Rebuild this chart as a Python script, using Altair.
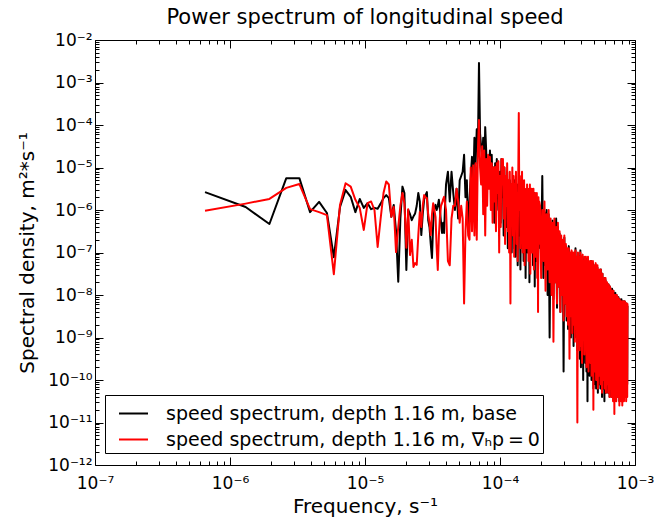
import altair as alt
import pandas as pd

# ---------------- data ----------------
DF = 6.53e-7  # frequency resolution of the spectrum, s^-1
SER_BASE = "speed spectrum, depth 1.16 m, base"
SER_RED = "speed spectrum, depth 1.16 m, ∇ₕp\u2009=\u20090"

# frequency-bin indices of each segment (the spectrum is on an even grid k*DF)
bins_lo = list(range(1, 61))
bins_mid = list(range(61, 161, 2))
bins_hi1 = list(range(161, 301, 2))
bins_hi2 = list(range(303, 1351, 6))

# log10 of spectral density, base run
base_lo = [
    -5.58, -5.93, -6.33, -5.25, -5.25, -6.05, -5.81, -6.07, -7.11, -5.93,
    -5.53, -5.69, -6.05, -5.74, -5.95, -5.84, -5.98, -5.95, -5.97, -5.85,
    -5.72, -5.65, -5.72, -6.16, -5.88, -6.50, -7.69, -6.20, -5.45, -5.60,
    -7.41, -6.00, -6.10, -6.24, -6.15, -6.08, -5.90, -5.60, -5.80, -6.59,
    -6.10, -5.75, -5.65, -5.58, -6.24, -6.40, -6.80, -7.13, -6.30, -5.95,
    -5.88, -6.00, -5.90, -5.76, -6.00, -6.30, -6.54, -6.30, -6.54, -5.90,
]
base_mid = [
    -5.4, -5.1, -5.8, -5.1, -5.6, -6.0, -5.5, -6.2, -5.3, -5.2,
    -5.1, -4.7, -5.7, -5.3, -6.5, -5.8, -5.2, -4.75, -5.5, -4.3,
    -4.9, -4.1, -4.6, -2.54, -4.2, -4.5, -4.8, -4.3, -5.2, -4.05,
    -4.6, -5.3, -4.8, -5.2, -4.6, -5.4, -4.7, -5.6, -5.0, -6.3,
    -4.9, -5.7, -4.8, -5.4, -6.0, -5.9, -5.1, -6.3, -4.8, -5.7,
]
base_hi1 = [
    -5.2, -6.6, -5.0, -6.1, -5.4, -6.4, -5.1, -6.9, -5.5, -6.2,
    -5.3, -6.8, -5.6, -7.0, -5.4, -6.5, -5.5, -6.9, -5.3, -7.1,
    -5.6, -6.4, -5.4, -7.3, -5.7, -5.9, -6.6, -5.5, -7.4, -5.8,
    -6.7, -5.4, -6.9, -5.9, -7.2, -5.6, -6.8, -5.8, -7.6, -5.7,
    -6.5, -5.6, -7.0, -5.8, -6.6, -5.7, -7.7, -5.9, -6.4, -5.6,
    -6.9, -5.8, -6.5, -5.7, -7.3, -5.9, -6.6, -5.6, -7.8, -6.0,
    -6.4, -5.7, -7.2, -5.9, -6.7, -5.8, -7.4, -6.0, -6.9, -5.9,
]
base_hi2 = [
    -5.95, -7.2, -5.2, -7.6, -6.05, -7.3, -6.0, -8.0, -6.1, -9.0,
    -6.3, -7.9, -6.25, -8.1, -6.45, -7.7, -6.2, -8.3, -6.4, -7.8,
    -6.55, -8.4, -6.7, -8.0, -6.75, -9.8, -6.65, -8.2, -6.85, -8.6,
    -6.95, -8.8, -6.85, -8.4, -7.05, -9.0, -7.0, -8.6, -7.05, -9.2,
    -7.05, -9.0, -6.9, -8.7, -7.15, -9.3, -7.05, -8.9, -7.1, -9.5,
    -6.95, -9.7, -7.15, -9.1, -7.1, -10.0, -7.2, -9.3, -7.15, -9.6,
    -7.15, -9.8, -7.15, -10.5, -7.2, -9.4, -7.3, -9.9, -7.25, -9.5,
    -7.2, -10.0, -7.35, -9.6, -7.25, -10.2, -7.3, -9.7, -7.45, -10.1,
    -7.3, -10.2, -7.4, -9.8, -7.35, -10.3, -7.45, -9.9, -7.45, -10.1,
    -7.5, -10.2, -7.4, -9.9, -7.6, -10.4, -7.5, -10.0, -7.65, -10.2,
    -7.65, -10.5, -7.6, -10.0, -7.65, -10.3, -7.75, -9.9, -7.75, -10.2,
    -7.8, -10.3, -7.75, -10.0, -7.9, -10.4, -7.8, -10.1, -7.9, -10.2,
    -7.95, -10.4, -7.85, -10.0, -8.0, -10.3, -7.9, -10.1, -8.05, -10.5,
    -8.05, -10.2, -7.95, -10.0, -8.1, -10.4, -8.0, -10.1, -8.15, -10.3,
    -8.1, -10.4, -8.05, -10.1, -8.15, -10.5, -8.1, -10.2, -8.2, -10.3,
    -8.2, -10.3, -8.1, -10.1, -8.2, -10.2, -8.15, -10.0, -8.2, -10.3,
    -8.15, -10.2, -8.2, -10.0, -8.15, -10.3, -8.2, -10.1, -8.25, -10.4,
    -8.2, -10.2, -8.25, -10.1, -8.25,
]

# log10 of spectral density, run with zero horizontal pressure gradient
red_lo = [
    -6.02, -5.85, -5.74, -5.48, -5.39, -5.98, -6.05, -6.12, -7.51, -5.88,
    -5.37, -5.45, -5.76, -5.95, -6.47, -5.84, -5.80, -6.00, -6.87, -6.20,
    -5.60, -5.33, -5.40, -6.16, -5.93, -6.99, -6.40, -5.90, -5.60, -5.84,
    -6.89, -5.98, -7.06, -6.70, -7.34, -7.25, -7.29, -6.60, -6.05, -6.40,
    -5.90, -5.65, -5.70, -5.72, -6.10, -6.30, -6.59, -6.10, -5.84, -6.00,
    -6.16, -6.90, -7.41, -6.60, -6.16, -5.90, -5.84, -5.75, -5.69, -5.85,
]
red_mid = [
    -6.0, -7.2, -7.3, -6.2, -5.9, -5.9, -5.5, -5.8, -6.3, -5.9,
    -6.2, -8.2, -6.5, -5.8, -6.6, -6.7, -5.0, -6.5, -4.95, -6.6,
    -4.9, -6.7, -4.6, -3.88, -5.0, -5.4, -4.5, -6.1, -4.6, -6.6,
    -4.8, -5.9, -4.7, -5.5, -4.75, -6.0, -4.9, -6.3, -5.0, -5.8,
    -4.99, -6.5, -4.9, -5.6, -4.85, -7.0, -5.2, -6.4, -4.8, -5.4,
]
red_hi1 = [
    -4.8, -6.2, -5.0, -6.8, -5.2, -5.9, -4.9, -6.5, -5.3, -7.0,
    -5.1, -8.2, -5.4, -6.3, -5.0, -6.6, -5.2, -7.1, -5.4, -6.0,
    -5.1, -6.8, -5.6, -7.2, -5.3, -3.72, -6.0, -5.2, -6.9, -5.5,
    -6.3, -5.1, -7.0, -5.6, -6.5, -5.3, -7.3, -5.7, -6.2, -5.5,
    -6.9, -5.4, -6.4, -5.8, -7.2, -5.5, -6.6, -5.4, -7.5, -5.9,
    -6.3, -5.5, -7.0, -5.7, -6.6, -5.5, -7.4, -5.9, -6.5, -5.6,
    -7.1, -5.8, -6.7, -5.6, -7.6, -5.9, -8.4, -5.7, -6.8, -5.8,
]
red_hi2 = [
    -5.9, -7.6, -6.0, -7.2, -5.8, -7.9, -6.1, -7.4, -6.0, -7.7,
    -6.2, -8.0, -6.3, -9.1, -6.2, -7.7, -6.4, -8.2, -6.3, -7.8,
    -6.5, -8.4, -6.6, -8.0, -6.7, -8.6, -6.6, -8.2, -6.8, -8.5,
    -6.9, -8.7, -6.9, -9.5, -7.0, -8.5, -6.95, -8.9, -7.0, -8.7,
    -7.0, -9.1, -6.95, -8.8, -7.1, -11.0, -7.0, -9.0, -7.1, -9.3,
    -7.0, -9.2, -7.1, -9.6, -7.05, -9.0, -7.2, -9.4, -7.1, -9.3,
    -7.1, -9.7, -7.2, -9.3, -7.1, -9.8, -7.3, -9.4, -7.2, -9.6,
    -7.2, -9.9, -7.3, -9.5, -7.2, -10.7, -7.3, -9.6, -7.4, -9.8,
    -7.25, -10.0, -7.4, -9.6, -7.3, -10.2, -7.5, -9.7, -7.4, -9.9,
    -7.45, -10.1, -7.4, -9.8, -7.55, -10.3, -7.5, -9.7, -7.6, -10.0,
    -7.6, -10.2, -7.65, -9.9, -7.6, -10.3, -7.75, -10.0, -7.7, -10.1,
    -7.75, -10.3, -7.75, -9.9, -7.85, -10.4, -7.8, -10.1, -7.85, -10.2,
    -7.9, -10.4, -7.9, -10.0, -7.95, -10.5, -7.9, -10.1, -8.0, -10.8,
    -8.0, -10.3, -8.0, -10.0, -8.05, -10.5, -8.0, -10.2, -8.1, -10.3,
    -8.05, -10.4, -8.1, -10.1, -8.1, -10.6, -8.1, -10.2, -8.15, -10.4,
    -8.15, -10.5, -8.15, -10.2, -8.2, -10.6, -8.15, -10.3, -8.2, -10.4,
    -8.15, -10.5, -8.2, -10.3, -8.15, -10.4, -8.2, -10.2, -8.2, -10.5,
    -8.2, -10.3, -8.2, -10.4, -8.2,
]


def build(series, segments):
    rows = []
    for bins, vals in segments:
        for k, v in zip(bins, vals):
            rows.append({"series": series, "freq": k * DF, "psd": 10.0 ** v})
    return pd.DataFrame(rows)


df_base = build(SER_BASE, [(bins_lo, base_lo), (bins_mid, base_mid),
                           (bins_hi1, base_hi1), (bins_hi2, base_hi2)])
df_red = build(SER_RED, [(bins_lo, red_lo), (bins_mid, red_mid),
                         (bins_hi1, red_hi1), (bins_hi2, red_hi2)])

x_major = [1e-7, 1e-6, 1e-5, 1e-4, 1e-3]
y_major = [10.0 ** e for e in range(-12, -1)]
x_minor = [m * 10.0 ** e for e in range(-7, -3) for m in range(2, 10)]
y_minor = [m * 10.0 ** e for e in range(-12, -2) for m in range(2, 10)]

# ---------------- styling ----------------
FONT = "DejaVu Sans"
SUP = "⁰¹²³⁴⁵⁶⁷⁸⁹"
E = "round(-log(datum.value)/LN10)"
LABEL_EXPR = (f"'10⁻' + ({E} >= 10 ? '¹' + substring('{SUP}', {E} - 10, {E} - 9)"
              f" : substring('{SUP}', {E}, {E} + 1))")

xscale = alt.Scale(type="log", domain=[1e-7, 1e-3], nice=False)
yscale = alt.Scale(type="log", domain=[1e-12, 1e-2], nice=False)
cscale = alt.Scale(domain=[SER_BASE, SER_RED], range=["#000000", "#ff0000"])


def tick_axis(orient, values, size):
    return alt.Axis(orient=orient, values=values, tickSize=size, offset=-size,
                    labels=False, domain=False, grid=False, title=None,
                    tickColor="black", tickWidth=1)


legend = alt.Legend(
    title=None, orient="none", legendX=10, legendY=355,
    symbolType="stroke", symbolSize=841, symbolStrokeWidth=2,
    symbolOffset=10, labelOffset=17, labelFont=FONT, labelFontSize=19,
    labelColor="black", labelLimit=600, padding=3, rowPadding=0,
    strokeColor="black", fillColor="white", cornerRadius=0,
)

black_layer = alt.Chart(df_base).mark_line(strokeWidth=2, strokeJoin="round").encode(
    x=alt.X("freq:Q", scale=xscale, axis=alt.Axis(
        orient="bottom", values=x_major, tickSize=8, offset=-8, domain=False,
        grid=False, labelExpr=LABEL_EXPR, labelFont=FONT, labelFontSize=17,
        labelColor="black", labelPadding=10, labelOverlap=False, labelFlush=False,
        tickColor="black", title="Frequency, s⁻¹", titleFont=FONT,
        titleFontSize=20, titleFontWeight="normal", titleColor="black",
        titlePadding=5)),
    y=alt.Y("psd:Q", scale=yscale, axis=alt.Axis(
        orient="left", values=y_major, tickSize=8, offset=-8, domain=False,
        grid=False, labelExpr=LABEL_EXPR, labelFont=FONT, labelFontSize=17,
        labelColor="black", labelPadding=3, labelOverlap=False, labelFlush=False,
        tickColor="black", title="Spectral density, m²*s⁻¹", titleFont=FONT,
        titleFontSize=20, titleFontWeight="normal", titleColor="black",
        titlePadding=10)),
    color=alt.Color("series:N", scale=cscale, legend=legend),
)

red_layer = alt.Chart(df_red).mark_line(strokeWidth=2, strokeJoin="round").encode(
    x=alt.X("freq:Q", scale=xscale, axis=tick_axis("top", x_major, 8)),
    y=alt.Y("psd:Q", scale=yscale, axis=tick_axis("right", y_major, 8)),
    color=alt.Color("series:N", scale=cscale, legend=legend),
)

minor1 = alt.Chart(df_base).mark_line(opacity=0).encode(
    x=alt.X("freq:Q", scale=xscale, axis=tick_axis("bottom", x_minor, 4)),
    y=alt.Y("psd:Q", scale=yscale, axis=tick_axis("left", y_minor, 4)),
)
minor2 = alt.Chart(df_base).mark_line(opacity=0).encode(
    x=alt.X("freq:Q", scale=xscale, axis=tick_axis("top", x_minor, 4)),
    y=alt.Y("psd:Q", scale=yscale, axis=tick_axis("right", y_minor, 4)),
)

chart = alt.layer(minor1, minor2, black_layer, red_layer).resolve_scale(
    x="shared", y="shared", color="shared"
).resolve_axis(
    x="independent", y="independent"
).properties(
    width=540, height=425,
    padding={"left": 95, "top": 40, "right": 19, "bottom": 59},
    autosize=alt.AutoSizeParams(type="none"),
    background="white",
    title=alt.TitleParams("Power spectrum of longitudinal speed", font=FONT,
                          fontSize=21, fontWeight="normal", color="black",
                          anchor="middle", offset=3),
).configure_view(stroke="black", strokeWidth=1)

chart.save("out.html", embed_options={"renderer": "svg", "actions": False})
